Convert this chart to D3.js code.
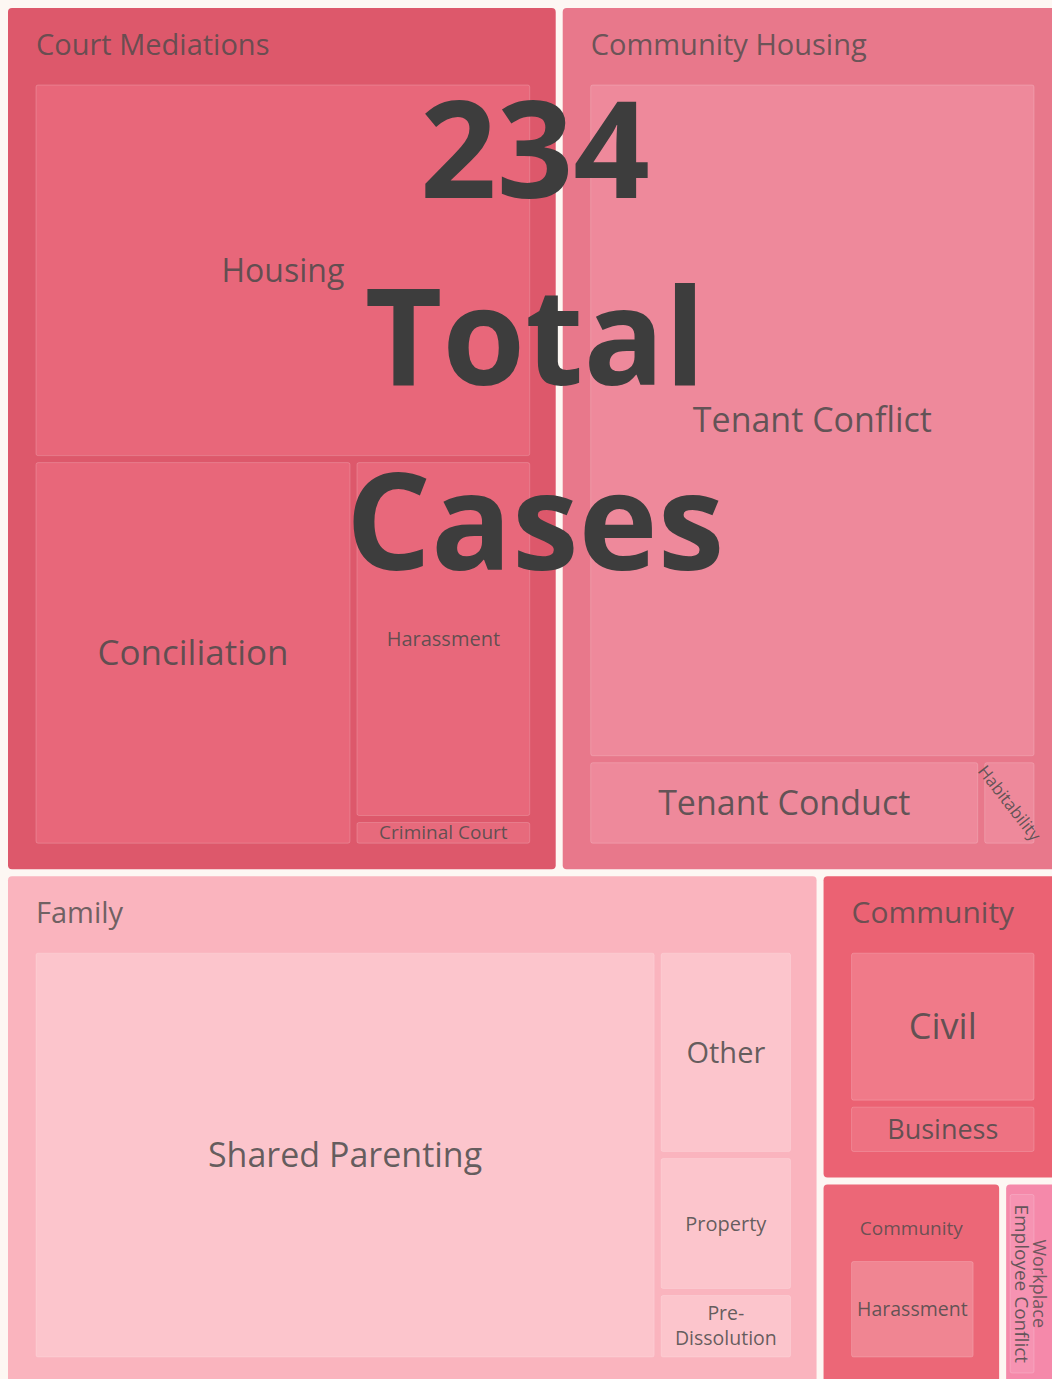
<!DOCTYPE html>
<html><head><meta charset="utf-8">
<script src="https://cdn.jsdelivr.net/npm/d3@7"></script>
<style>html,body{margin:0;padding:0;background:#fdf7f3;overflow:hidden}svg{display:block}</style>
</head><body><svg id="c" width="1052" height="1379"></svg>
<script>
// ---- data ----
const totalCases = 234;
const titleWords = ["Total", "Cases"];
const groupNames = ["Court Mediations", "Community Housing", "Family", "Community", "Community", "Workplace"];
const subNames = [
  ["Housing", "Conciliation", "Harassment", "Criminal Court"],
  ["Tenant Conflict", "Tenant Conduct", "Habitability"],
  ["Shared Parenting", "Other", "Property", "Pre-Dissolution"],
  ["Civil", "Business"],
  ["Harassment"],
  ["Employee Conflict"]
];
const subValues = [
  [38, 25, 13, 1],
  [62, 7, 1],
  [55, 6, 4, 2],
  [9, 3],
  [6],
  [2]
];

// ---- styles ----
const groupFill = ["#dd586b", "#e8788b", "#fab4be", "#eb6273", "#ec6777", "#f589aa"];
const leafFill = [
  ["#e8677a", "#e8677a", "#e8687b", "#e76a7c"],
  ["#ee899b", "#ee899b", "#ee899b"],
  ["#fcc5cc", "#fcc5cc", "#fcc5cc", "#fcc5cc"],
  ["#f07a89", "#ee7282"],
  ["#f08592"],
  ["#f693b2"]
];
const groupFont = [29, 29, 29, 30, 19, 18];
const groupAnchor = ["start", "start", "start", "start", "middle", "rot"];
const leafFont = [[32, 35, 20, 19], [34, 34, 17], [34, 29, 20, 19.5], [36, 27], [19.5], [19]];
const leafRot = [[0, 0, 0, 0], [0, 0, 52], [0, 0, 0, 0], [0, 0], [0], [90]];
const textColor = "#4a4a4a";

const tree = {
  name: "root",
  children: groupNames.map((g, i) => ({
    name: g, gi: i,
    children: subNames[i].map((s, j) => ({name: s, gi: i, li: j, value: subValues[i][j]}))
  }))
};

const root = d3.hierarchy(tree).sum(d => d.value || 0).sort((a, b) => b.value - a.value);
const narrow = d => (d.x1 - d.x0) < 80;
d3.treemap()
  .tile(d3.treemapSquarify.ratio(1))
  .size([1068, 1391])
  .paddingInner(7)
  .paddingTop(d => d.depth === 0 ? 8 : (narrow(d) ? 10 : 77))
  .paddingLeft(d => d.depth === 0 ? 8 : (narrow(d) ? 4 : 28))
  .paddingRight(d => d.depth === 0 ? 8 : (narrow(d) ? 26 : 26))
  .paddingBottom(d => d.depth === 0 ? 8 : (narrow(d) ? 10 : 26))
  (root);

const svg = d3.select("#c");
svg.append("rect").attr("width", 1052).attr("height", 1379).attr("fill", "#fdf7f3");

const groups = root.children;
svg.append("g").selectAll("rect").data(groups).join("rect")
  .attr("x", d => d.x0).attr("y", d => d.y0)
  .attr("width", d => d.x1 - d.x0).attr("height", d => d.y1 - d.y0)
  .attr("rx", 4)
  .attr("fill", d => groupFill[d.data.gi]);

const leaves = root.leaves();
svg.append("g").selectAll("rect").data(leaves).join("rect")
  .attr("x", d => d.x0).attr("y", d => d.y0)
  .attr("width", d => Math.max(0, d.x1 - d.x0)).attr("height", d => Math.max(0, d.y1 - d.y0))
  .attr("rx", 2)
  .attr("fill", d => leafFill[d.data.gi][d.data.li])
  .attr("stroke", "rgba(255,255,255,0.18)").attr("stroke-width", 1);

const font = "'Open Sans', 'Noto Sans', sans-serif";

// group labels
const gl = svg.append("g").attr("font-family", font).attr("fill", textColor).attr("fill-opacity", 0.8);
groups.forEach(d => {
  const gi = d.data.gi, a = groupAnchor[gi];
  const t = gl.append("text").attr("font-size", groupFont[gi]).text(d.data.name);
  if (a === "rot") {
    t.attr("text-anchor", "middle").attr("dy", "0.35em")
     .attr("transform", `translate(${Math.min(d.x1 - 12, 1039)},${(d.y0 + d.y1) / 2}) rotate(90)`);
  } else if (a === "middle") {
    t.attr("text-anchor", "middle").attr("x", (d.x0 + d.x1) / 2).attr("y", d.y0 + 51);
  } else {
    t.attr("x", d.x0 + 28).attr("y", d.y0 + 47);
  }
});

// leaf labels
const ll = svg.append("g").attr("font-family", font).attr("fill", textColor).attr("fill-opacity", 0.85)
  .attr("text-anchor", "middle");
leaves.forEach(d => {
  const gi = d.data.gi, li = d.data.li;
  const cx = (d.x0 + d.x1) / 2, cy = (d.y0 + d.y1) / 2;
  const fs = leafFont[gi][li], rot = leafRot[gi][li];
  const t = ll.append("text").attr("font-size", fs)
    .attr("transform", `translate(${cx},${cy}) rotate(${rot})`);
  const w = d.x1 - d.x0;
  const name = d.data.name;
  if (name.includes("-") && w < 140) {
    const parts = [name.slice(0, name.indexOf("-") + 1), name.slice(name.indexOf("-") + 1)];
    parts.forEach((p, k) => t.append("tspan").attr("x", 0).attr("dy", k === 0 ? "-0.3em" : "1.28em").text(p));
  } else {
    t.attr("dy", "0.35em").text(name);
  }
});

// overlay title
const title = svg.append("g").attr("font-family", font).attr("font-weight", 700)
  .attr("fill", "#3d3d3d").attr("text-anchor", "middle").attr("font-size", 134);
const lines = [String(totalCases)].concat(titleWords);
const baselines = [198, 385, 570];
lines.forEach((s, i) => title.append("text").attr("x", 535).attr("y", baselines[i]).text(s));
</script>
</body></html>
